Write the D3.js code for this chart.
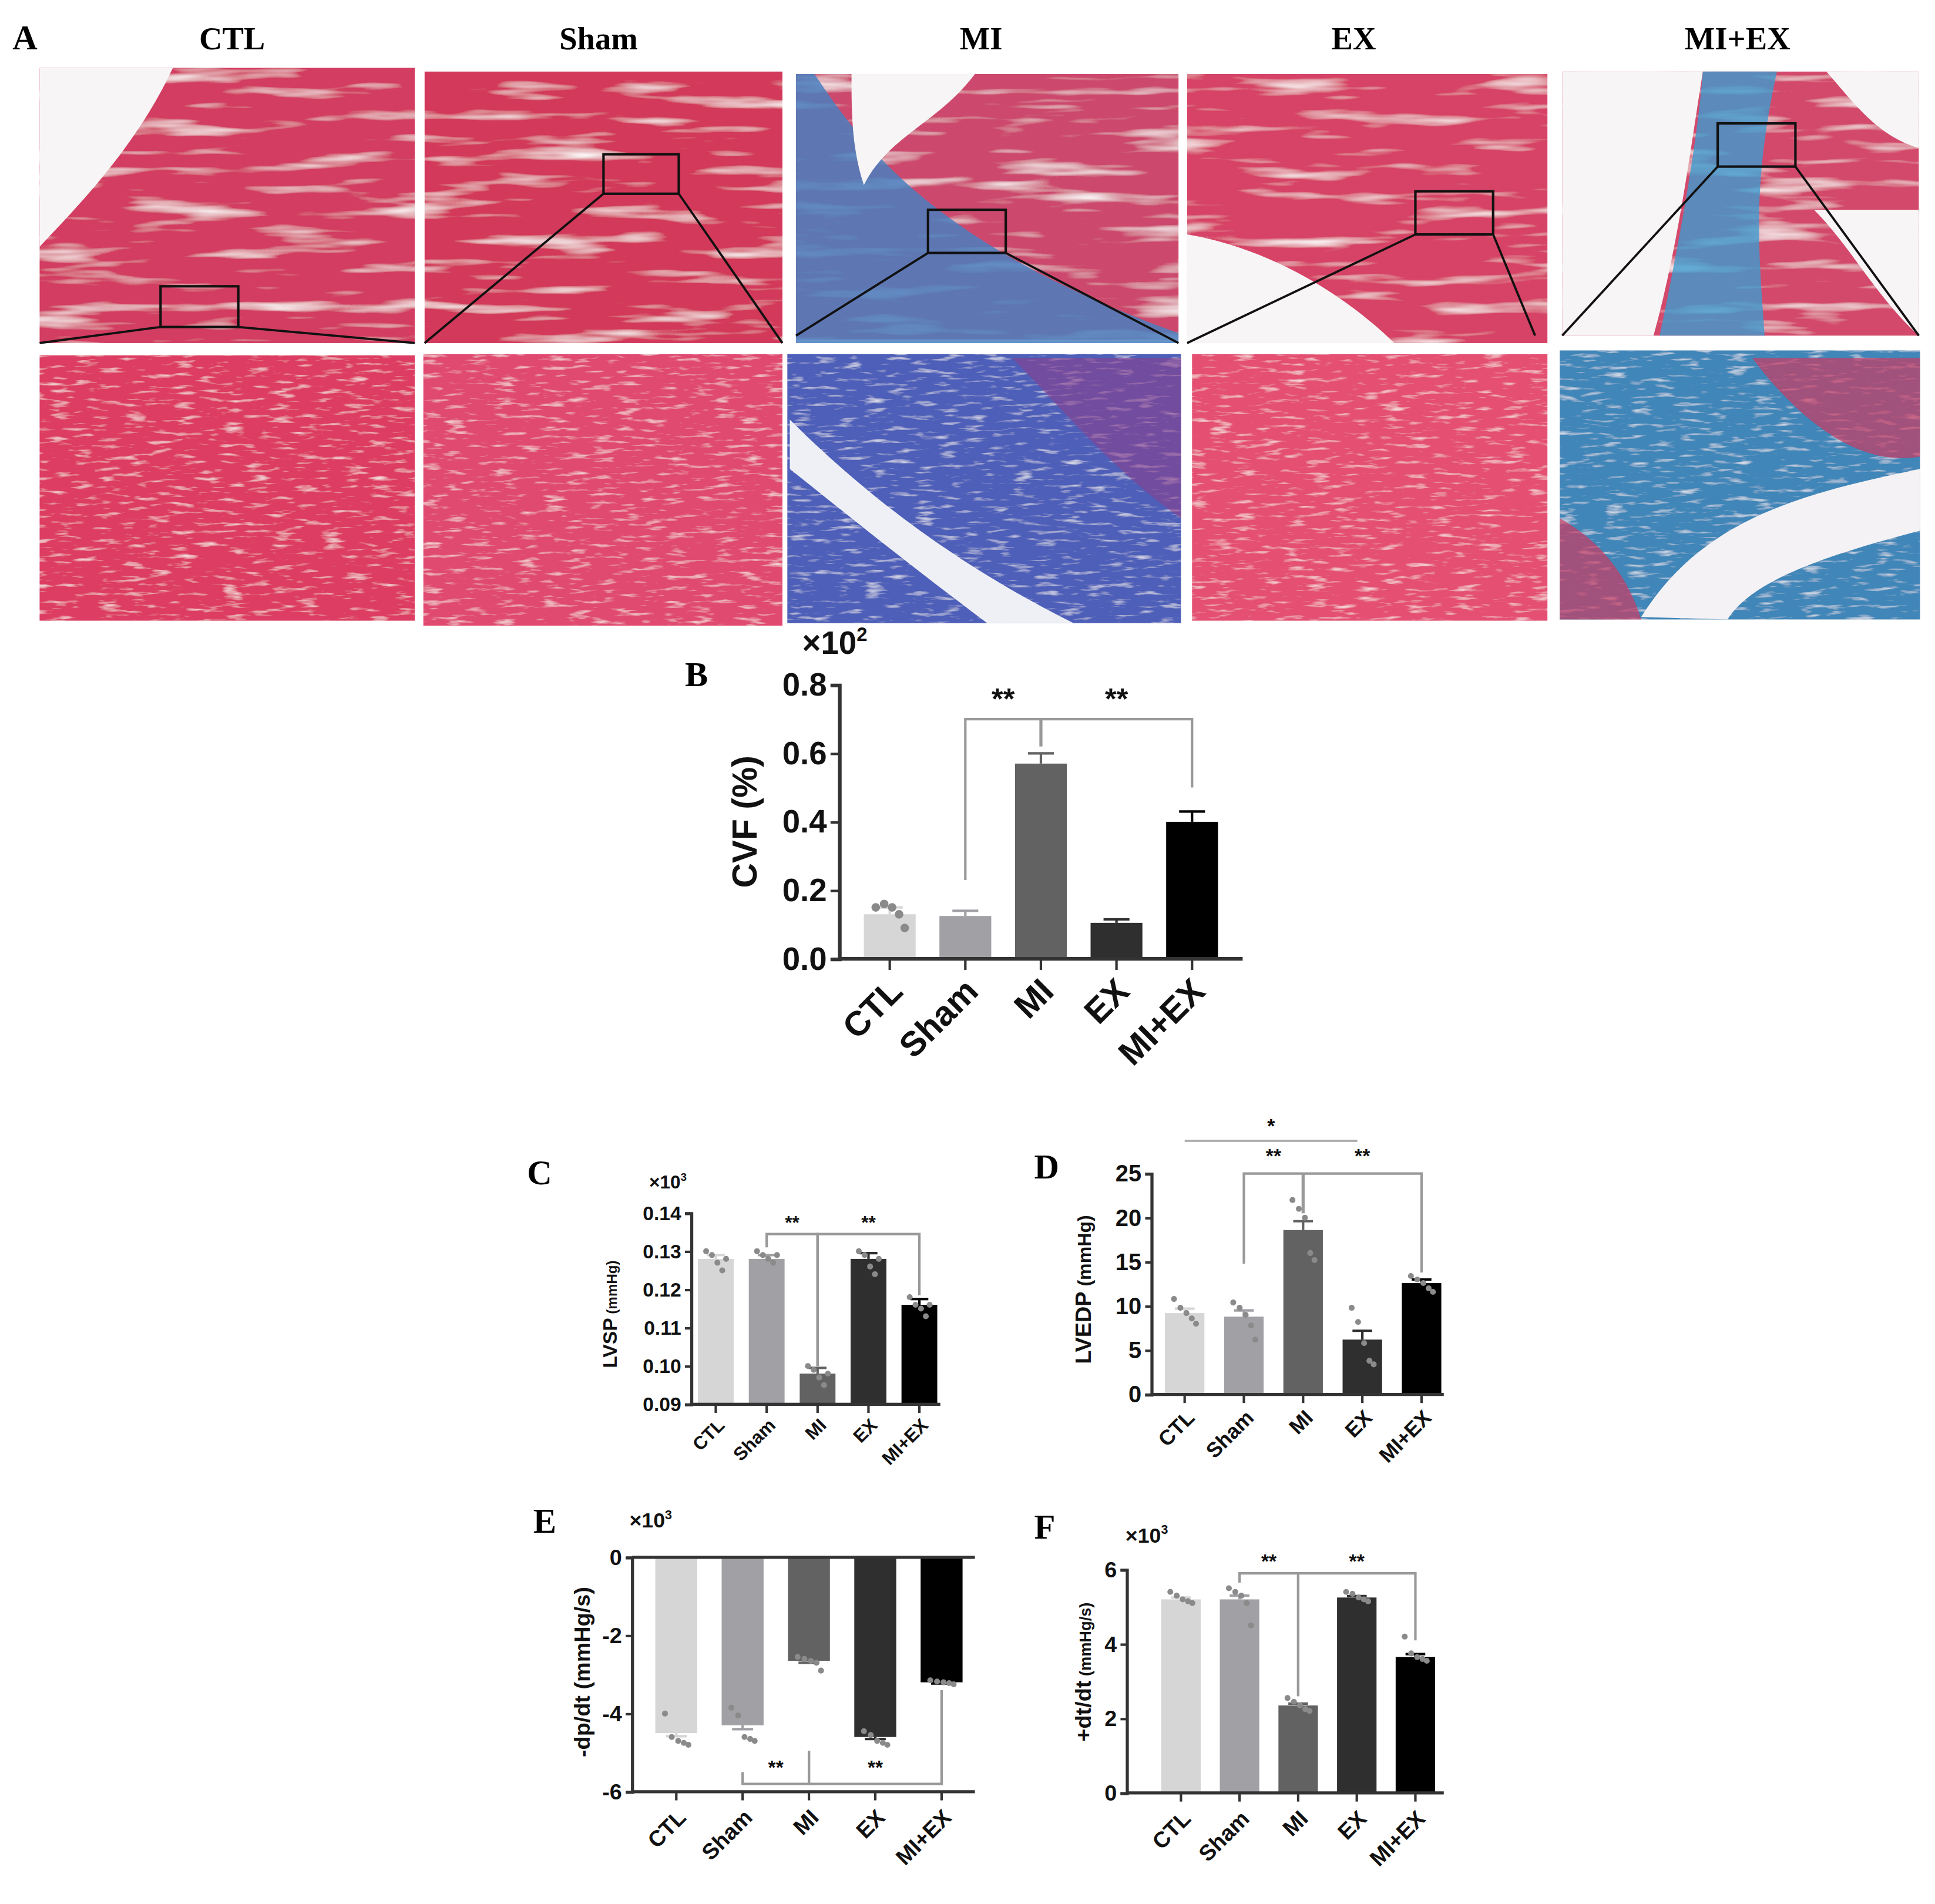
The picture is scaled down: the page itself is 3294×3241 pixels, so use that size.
<!DOCTYPE html>
<html>
<head>
<meta charset="utf-8">
<script src="https://cdn.jsdelivr.net/npm/d3@7"></script>
<style>
  body { margin: 0; background: #fff; }
  text { font-family: "Liberation Sans", Arial, sans-serif; font-weight: bold; }
  .serif { font-family: "Liberation Serif", "Times New Roman", serif; }
</style>
</head>
<body>
<svg id="fig"></svg>
<script>
// Groups and colours shared by every bar panel
var groups = ["CTL", "Sham", "MI", "EX", "MI+EX"];
var barColors = ["#d6d6d6", "#a1a0a4", "#626262", "#2f2f2f", "#000000"];

// B: collagen volume fraction (x10^2 %)
var cvfMean = [0.13, 0.125, 0.57, 0.105, 0.40];
var cvfErr = [0.02, 0.015, 0.03, 0.01, 0.03];
var cvfDots = [[0.15, 0.16, 0.15, 0.13, 0.09], [], [], [], []];
var cvfTicks = [0, 0.2, 0.4, 0.6, 0.8];

// C: LVSP (x10^3 mmHg)
var lvspMean = [0.128, 0.128, 0.098, 0.128, 0.116];
var lvspErr = [0.001, 0.001, 0.0015, 0.0015, 0.0015];
var lvspDots = [[0.130, 0.129, 0.127, 0.125, 0.128], [0.130, 0.129, 0.128, 0.127, 0.129],
                [0.100, 0.099, 0.097, 0.095, 0.098], [0.130, 0.129, 0.126, 0.124, 0.128],
                [0.118, 0.116, 0.115, 0.113, 0.116]];
var lvspTicks = [0.09, 0.10, 0.11, 0.12, 0.13, 0.14];

// D: LVEDP (mmHg)
var lvedpMean = [9.2, 8.8, 18.6, 6.2, 12.6];
var lvedpErr = [0.5, 0.7, 1.0, 1.0, 0.4];
var lvedpDots = [[10.8, 9.8, 9.2, 8.6, 8.0], [10.4, 9.8, 9.0, 7.8, 6.2],
                 [22.0, 21.0, 20.0, 16.0, 15.2], [9.8, 8.2, 5.8, 3.8, 3.4],
                 [13.4, 13.0, 12.6, 12.0, 11.6]];
var lvedpTicks = [0, 5, 10, 15, 20, 25];

// E: -dp/dt (x10^3 mmHg/s)
var dpMean = [-4.5, -4.3, -2.65, -4.6, -3.2];
var dpErr = [0.08, 0.1, 0.05, 0.05, 0.03];
var dpDots = [[-4.0, -4.6, -4.7, -4.75, -4.8], [-3.85, -4.05, -4.6, -4.65, -4.7],
              [-2.55, -2.6, -2.65, -2.7, -2.9], [-4.45, -4.55, -4.7, -4.75, -4.8],
              [-3.15, -3.18, -3.2, -3.22, -3.25]];
var dpTicks = [-6, -4, -2, 0];

// F: +dt/dt (x10^3 mmHg/s)
var dtMean = [5.2, 5.2, 2.35, 5.25, 3.65];
var dtErr = [0.05, 0.1, 0.05, 0.04, 0.08];
var dtDots = [[5.4, 5.3, 5.2, 5.15, 5.1], [5.5, 5.4, 5.3, 5.1, 4.5],
              [2.55, 2.45, 2.35, 2.25, 2.2], [5.4, 5.35, 5.25, 5.2, 5.15],
              [4.2, 3.75, 3.65, 3.6, 3.55]];
var dtTicks = [0, 2, 4, 6];

// Panel A column titles
var histoTitles = ["CTL", "Sham", "MI", "EX", "MI+EX"];

var svg = d3.select("#fig")
    .attr("width", 3294).attr("height", 3241)
    .attr("viewBox", "0 0 1568 1543");

// ---------- Panel A (stain-like textures) ----------
var defs = svg.append("defs");
function tissueFilter(id, freq, seed, k) {
    var f = defs.append("filter").attr("id", id).attr("x", 0).attr("y", 0).attr("width", 1).attr("height", 1);
    f.append("feTurbulence").attr("type", "fractalNoise").attr("baseFrequency", freq)
        .attr("numOctaves", 3).attr("seed", seed).attr("result", "n");
    f.append("feColorMatrix").attr("in", "n").attr("type", "matrix")
        .attr("values", "0 0 0 0 1  0 0 0 0 1  0 0 0 0 1  " + k + " 0 0 0 " + (-k / 2 - 0.15)).attr("result", "w");
    f.append("feComposite").attr("in", "w").attr("in2", "SourceGraphic").attr("operator", "atop");
}
tissueFilter("streakA", "0.01 0.09", 2, 2.6);
tissueFilter("fine", "0.05 0.3", 9, 2.0);

var topImgs = [[32, 55, 304, 223], [344, 58, 290, 220], [645, 60, 310, 215], [962, 60, 292, 218], [1266, 58, 289, 214]];
var botImgs = [[32, 288, 304, 215], [343, 287, 291, 220], [638, 287, 319, 218], [966, 287, 288, 216], [1264, 284, 292, 218]];
var topFill = ["#cf2f55", "#d02a4e", "#c93a62", "#d4345a", "#d13a60"];
var botFill = ["#dd3c62", "#e04a70", "#4e5fb8", "#e44f72", "#3f86b8"];

topImgs.forEach(function (r, i) {
    svg.append("rect").attr("x", r[0]).attr("y", r[1]).attr("width", r[2]).attr("height", r[3])
        .attr("fill", "#f6f4f4");
    svg.append("rect").attr("x", r[0]).attr("y", r[1]).attr("width", r[2]).attr("height", r[3])
        .attr("fill", topFill[i]).attr("filter", "url(#streakA)").attr("opacity", 0.92);
});
// background areas and scar regions in top images
svg.append("path").attr("d", "M32,55 L140,55 C110,120 60,170 32,200 Z").attr("fill", "#f7f5f6");
svg.append("path").attr("d", "M660,60 C700,120 760,200 955,270 L955,278 L645,278 L645,60 Z")
    .attr("fill", "#4a7fc0").attr("opacity", 0.85);
svg.append("path").attr("d", "M690,60 L790,60 C760,100 720,110 700,150 C690,120 690,90 690,60 Z").attr("fill", "#f7f5f6");
svg.append("path").attr("d", "M962,190 C1020,200 1080,230 1130,278 L962,278 Z").attr("fill", "#f7f5f6");
svg.append("path").attr("d", "M1266,58 L1380,58 C1370,120 1360,200 1340,272 L1266,272 Z").attr("fill", "#f7f5f6");
svg.append("path").attr("d", "M1470,170 C1500,200 1520,240 1555,272 L1555,170 Z").attr("fill", "#f7f5f6");
svg.append("path").attr("d", "M1480,58 L1555,58 L1555,120 C1520,110 1500,80 1480,58 Z").attr("fill", "#f7f5f6");
svg.append("path").attr("d", "M1380,58 L1440,58 C1420,150 1425,200 1430,272 L1345,272 C1360,200 1375,120 1380,58 Z")
    .attr("fill", "#3d9bd0").attr("opacity", 0.8);

botImgs.forEach(function (r, i) {
    svg.append("rect").attr("x", r[0]).attr("y", r[1]).attr("width", r[2]).attr("height", r[3])
        .attr("fill", "#f4eef2");
    svg.append("rect").attr("x", r[0]).attr("y", r[1]).attr("width", r[2]).attr("height", r[3])
        .attr("fill", botFill[i]).attr("filter", "url(#fine)");
});
svg.append("path").attr("d", "M640,340 C720,420 800,470 870,505 L800,505 C740,460 690,420 640,380 Z")
    .attr("fill", "#eef0f6");
svg.append("path").attr("d", "M820,290 L957,290 L957,420 C900,380 860,330 820,290 Z").attr("fill", "#8a3f8e").attr("opacity", 0.6);
svg.append("path").attr("d", "M1330,500 C1380,420 1460,400 1556,380 L1556,430 C1480,450 1420,470 1400,502 Z")
    .attr("fill", "#f4f2f4");
svg.append("path").attr("d", "M1420,290 L1556,290 L1556,370 C1500,380 1450,330 1420,290 Z").attr("fill", "#c93a62").attr("opacity", 0.7);
svg.append("path").attr("d", "M1264,420 C1300,440 1320,470 1330,502 L1264,502 Z").attr("fill", "#c93a62").attr("opacity", 0.7);

// zoom boxes and connecting lines
var boxes = [[130, 232, 63, 33, 32, 278, 336, 278], [489, 125, 61, 32, 344, 278, 634, 278],
             [752, 170, 63, 35, 645, 272, 955, 278], [1147, 155, 63, 35, 962, 278, 1244, 272],
             [1392, 100, 63, 35, 1266, 272, 1555, 272]];
boxes.forEach(function (b) {
    svg.append("rect").attr("x", b[0]).attr("y", b[1]).attr("width", b[2]).attr("height", b[3])
        .attr("fill", "none").attr("stroke", "#111").attr("stroke-width", 2);
    svg.append("line").attr("x1", b[0]).attr("y1", b[1] + b[3]).attr("x2", b[4]).attr("y2", b[5])
        .attr("stroke", "#111").attr("stroke-width", 1.8);
    svg.append("line").attr("x1", b[0] + b[2]).attr("y1", b[1] + b[3]).attr("x2", b[6]).attr("y2", b[7])
        .attr("stroke", "#111").attr("stroke-width", 1.8);
});

var titleX = [188, 485, 795, 1097, 1408];
histoTitles.forEach(function (t, i) {
    svg.append("text").attr("class", "serif").attr("x", titleX[i]).attr("y", 40)
        .attr("text-anchor", "middle").attr("font-size", 26).text(t);
});
svg.append("text").attr("class", "serif").attr("x", 10).attr("y", 40).attr("font-size", 28).text("A");

// hyphen minus like the original figure
function hyphen(f) { return function (d) { return f(d).replace("\u2212", "-"); }; }

// ---------- bar chart helper ----------
function barPanel(o) {
    var g = svg.append("g");
    var x = d3.scalePoint().domain(groups).range([o.x0, o.x1]);
    var y = d3.scaleLinear().domain(o.domain).range([o.yBottom, o.yTop]);
    var base = o.base !== undefined ? o.base : o.domain[0];
    var bw = o.bw;

    g.selectAll(".bar").data(o.mean).enter().append("rect")
        .attr("x", function (d, i) { return x(groups[i]) - bw / 2; })
        .attr("y", function (d) { return Math.min(y(d), y(base)); })
        .attr("width", bw)
        .attr("height", function (d) { return Math.abs(y(d) - y(base)); })
        .attr("fill", function (d, i) { return barColors[i]; });

    // error bars (away from baseline)
    o.mean.forEach(function (m, i) {
        var sign = m >= base ? 1 : -1;
        var e = m + sign * o.err[i];
        var cx = x(groups[i]);
        g.append("line").attr("x1", cx).attr("x2", cx).attr("y1", y(m)).attr("y2", y(e))
            .attr("stroke", barColors[i]).attr("stroke-width", 2);
        g.append("line").attr("x1", cx - bw * 0.25).attr("x2", cx + bw * 0.25).attr("y1", y(e)).attr("y2", y(e))
            .attr("stroke", barColors[i]).attr("stroke-width", 2);
    });

    // individual points
    var offs = [-0.3, -0.12, 0.05, 0.2, 0.32];
    o.dots.forEach(function (arr, i) {
        arr.forEach(function (v, k) {
            g.append("circle").attr("cx", x(groups[i]) + offs[k % 5] * bw * 0.9).attr("cy", y(v))
                .attr("r", o.dotR || 2.4).attr("fill", "#8a8a8a");
        });
    });

    // y axis
    var yAx = g.append("g").attr("transform", "translate(" + o.axisX + ",0)")
        .call(d3.axisLeft(y).tickValues(o.ticks).tickFormat(hyphen(o.fmt)).tickSize(o.tick || 5).tickPadding(3));
    yAx.select(".domain").attr("stroke", "#333").attr("stroke-width", o.sw || 2.5);
    yAx.selectAll(".tick line").attr("stroke", "#333").attr("stroke-width", 2);
    yAx.selectAll("text").attr("font-size", o.fs).attr("fill", "#111").attr("font-weight", "bold")
        .attr("font-family", "Liberation Sans, Arial");

    // x axis line
    var axY = y(o.xAxisAt);
    g.append("line").attr("x1", o.axisX).attr("x2", o.xEnd).attr("y1", axY).attr("y2", axY)
        .attr("stroke", "#333").attr("stroke-width", o.sw || 2.5);
    var tickY = o.xTickY !== undefined ? y(o.xTickY) : axY;
    if (o.xTickY !== undefined) {
        g.append("line").attr("x1", o.axisX).attr("x2", o.xEnd).attr("y1", tickY).attr("y2", tickY)
            .attr("stroke", "#333").attr("stroke-width", o.sw || 2.5);
    }
    groups.forEach(function (gr) {
        g.append("line").attr("x1", x(gr)).attr("x2", x(gr)).attr("y1", tickY).attr("y2", tickY + (o.tick || 5) + 2)
            .attr("stroke", "#333").attr("stroke-width", 2);
        g.append("text").attr("transform", "translate(" + (x(gr) + o.lblDx) + "," + (tickY + o.lblDy) + ") rotate(-45)")
            .attr("text-anchor", "end").attr("font-size", o.xfs).attr("fill", "#111").text(gr);
    });

    // y label
    var yl = g.append("text").attr("transform", "translate(" + o.ylx + "," + o.yly + ") rotate(-90)")
        .attr("text-anchor", "middle").attr("font-size", o.ylfs).attr("fill", "#111");
    yl.append("tspan").text(o.ylab[0]);
    yl.append("tspan").attr("font-size", o.ylfs * (o.unitScale || 1)).text(o.ylab[1]);

    // multiplier
    if (o.mult) {
        var mt = g.append("text").attr("x", o.mult[0]).attr("y", o.mult[1]).attr("font-size", o.mult[2]).attr("fill", "#111");
        mt.append("tspan").text("×10");
        mt.append("tspan").attr("font-size", o.mult[2] * 0.6).attr("dy", -o.mult[2] * 0.4).text(o.mult[3]);
    }
    // panel letter
    svg.append("text").attr("class", "serif").attr("x", o.letter[1]).attr("y", o.letter[2])
        .attr("font-size", 28).text(o.letter[0]);

    // significance brackets
    (o.brackets || []).forEach(function (b) {
        var ly = y(b.level);
        var xs = b.idx.map(function (k) { return x(groups[k]); });
        var p = "M" + xs[0] + "," + y(b.ends[0]) + "V" + ly + "H" + xs[xs.length - 1] + "V" + y(b.ends[b.ends.length - 1]);
        g.append("path").attr("d", p).attr("fill", "none").attr("stroke", "#999").attr("stroke-width", 2);
        if (xs.length === 3) {
            g.append("line").attr("x1", xs[1]).attr("x2", xs[1]).attr("y1", ly).attr("y2", y(b.ends[1]))
                .attr("stroke", "#999").attr("stroke-width", 2.5);
        }
        b.stars.forEach(function (s) {
            g.append("text").attr("x", (x(groups[s[0]]) + x(groups[s[1]])) / 2).attr("y", y(s[2]))
                .attr("text-anchor", "middle").attr("font-size", o.starFs || 18).attr("fill", "#111").text("**");
        });
    });
    return { x: x, y: y, g: g };
}

// ---------- B ----------
barPanel({
    x0: 721, x1: 966, bw: 42, domain: [0, 0.8], yBottom: 777, yTop: 555,
    mean: cvfMean, err: cvfErr, dots: cvfDots, dotR: 3.5, ticks: cvfTicks, fmt: d3.format(".1f"),
    axisX: 680, xEnd: 1007, xAxisAt: 0, fs: 26, xfs: 28, lblDx: 12, lblDy: 28, tick: 7, sw: 3,
    ylab: ["CVF (%)", ""], ylx: 613, yly: 666, ylfs: 28,
    mult: [650, 530, 26, "2"], letter: ["B", 555, 556], starFs: 24,
    brackets: [{ idx: [1, 2, 4], level: 0.7, ends: [0.23, 0.62, 0.5],
                 stars: [[1, 2, 0.73], [3, 3, 0.73]] }]
});

// ---------- C ----------
barPanel({
    x0: 580, x1: 745, bw: 29, domain: [0.09, 0.14], yBottom: 1138, yTop: 983,
    mean: lvspMean, err: lvspErr, dots: lvspDots, ticks: lvspTicks, fmt: d3.format(".2f"),
    axisX: 560, xEnd: 762, xAxisAt: 0.09, fs: 16, xfs: 15, lblDx: 8, lblDy: 18,
    ylab: ["LVSP", " (mmHg)"], unitScale: 0.72, ylx: 500, yly: 1065, ylfs: 16,
    mult: [526, 963, 15, "3"], letter: ["C", 427, 960], starFs: 15,
    brackets: [{ idx: [1, 2], level: 0.1345, ends: [0.131, 0.1], stars: [[1, 2, 0.1358]] },
               { idx: [2, 4], level: 0.1345, ends: [0.1, 0.1185], stars: [[3, 3, 0.1358]] }]
});

// ---------- D ----------
var dPanel = barPanel({
    x0: 960, x1: 1152, bw: 32, domain: [0, 25], yBottom: 1130, yTop: 951,
    mean: lvedpMean, err: lvedpErr, dots: lvedpDots, ticks: lvedpTicks, fmt: d3.format("d"),
    axisX: 933, xEnd: 1170, xAxisAt: 0, fs: 19, xfs: 17, lblDx: 9, lblDy: 20,
    ylab: ["LVEDP", " (mmHg)"], unitScale: 0.85, ylx: 884, yly: 1045, ylfs: 18,
    letter: ["D", 838, 955], starFs: 16,
    brackets: [{ idx: [1, 2, 4], level: 25, ends: [14.8, 20.5, 13.8],
                 stars: [[1, 2, 26.2], [3, 3, 26.2]] }]
});
dPanel.g.append("line").attr("x1", 960).attr("x2", 1100).attr("y1", dPanel.y(28.7)).attr("y2", dPanel.y(28.7))
    .attr("stroke", "#aaa").attr("stroke-width", 1.8);
dPanel.g.append("text").attr("x", 1030).attr("y", dPanel.y(29.6)).attr("text-anchor", "middle")
    .attr("font-size", 16).text("*");

// ---------- E ----------
barPanel({
    x0: 548, x1: 763, bw: 34, domain: [-6, 0], base: 0, yBottom: 1452, yTop: 1262,
    mean: dpMean, err: dpErr, dots: dpDots, ticks: dpTicks, fmt: d3.format("d"),
    axisX: 512, xEnd: 790, xAxisAt: 0, xTickY: -6, fs: 18, xfs: 18, lblDx: 9, lblDy: 22,
    ylab: ["-dp/dt", " (mmHg/s)"], ylx: 478, yly: 1355, ylfs: 18,
    mult: [510, 1238, 17, "3"], letter: ["E", 432, 1242], starFs: 16,
    brackets: [{ idx: [1, 2], level: -5.8, ends: [-5.5, -4.95], stars: [[1, 2, -5.55]] },
               { idx: [2, 4], level: -5.8, ends: [-4.95, -3.4], stars: [[3, 3, -5.55]] }]
});

// ---------- F ----------
barPanel({
    x0: 957, x1: 1147, bw: 32, domain: [0, 6], yBottom: 1453, yTop: 1272,
    mean: dtMean, err: dtErr, dots: dtDots, ticks: dtTicks, fmt: d3.format("d"),
    axisX: 913, xEnd: 1170, xAxisAt: 0, fs: 18, xfs: 18, lblDx: 9, lblDy: 22,
    ylab: ["+dt/dt", "  (mmHg/s)"], unitScale: 0.72, ylx: 884, yly: 1355, ylfs: 18,
    mult: [912, 1250, 17, "3"], letter: ["F", 838, 1247], starFs: 16,
    brackets: [{ idx: [1, 2], level: 5.9, ends: [5.65, 2.6], stars: [[1, 2, 6.05]] },
               { idx: [2, 4], level: 5.9, ends: [2.6, 4.1], stars: [[3, 3, 6.05]] }]
});
</script>
</body>
</html>
